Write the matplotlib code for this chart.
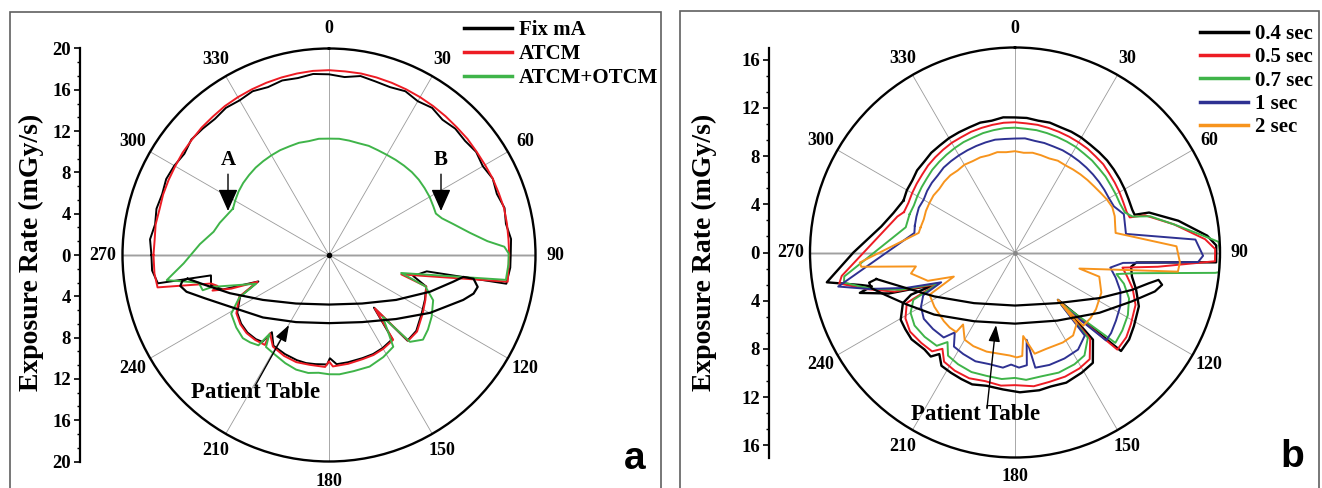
import numpy as np
import matplotlib
matplotlib.use('Agg')
import matplotlib.pyplot as plt
from matplotlib.lines import Line2D
from matplotlib.patches import Rectangle
from matplotlib.ticker import MultipleLocator

plt.rcParams['font.family'] = ['Liberation Serif', 'DejaVu Serif']
plt.rcParams['font.weight'] = 'bold'

W, H = 1322, 488

# angles in degrees, clockwise from the top; radius = exposure rate (mGy/s)
# ---------------- panel a ----------------
fix_a_theta = [270, 275, 280, 285, 290, 295, 300, 305, 310, 315, 320, 325, 330, 335, 340, 345, 350, 355,
               0, 5, 10, 15, 20, 25, 30, 35, 40, 45, 50, 55, 60, 65, 70, 75, 80, 85, 90,
               94, 99.2, 99.5, 104, 108, 115, 122, 131, 137.5, 139.5, 143, 150, 156, 162, 170, 176, 179.5, 181,
               187, 192, 197, 204, 211.5, 216.5, 217.5, 221, 226.5, 232, 237.8, 245, 249.5, 252, 255.5,
               260.2, 260.6, 265, 270]
fix_a_r = [17.2, 17.4, 17.1, 17.3, 17.2, 17.4, 17.3, 17.1, 17.4, 17.3, 17.2, 17.4, 17.3, 17.5, 17.3, 17.5, 17.4, 17.6,
           17.5, 17.3, 17.6, 17.4, 17.3, 17.5, 17.2, 17.4, 17.1, 17.3, 17.2, 17.4, 17.2, 17.5, 17.3, 17.6, 17.4, 17.7, 17.6,
           17.6, 17.4, 9.6, 8.4, 9.9, 10.25, 10.6, 11.2, 11.25, 6.7, 10.2, 10.4, 10.5, 10.5, 10.55, 10.6, 10.0, 10.6,
           10.65, 10.7, 10.65, 10.5, 10.3, 9.3, 10.6, 10.8, 10.9, 10.8, 10.5, 9.5, 7.3, 10.8, 11.8,
           11.6, 16.8, 17.2, 17.2]

atcm_a_theta = [270, 275, 280, 285, 290, 295, 300, 305, 310, 315, 320, 325, 330, 335, 340, 345, 350, 355,
                0, 5, 10, 15, 20, 25, 30, 35, 40, 45, 50, 55, 60, 65, 70, 75, 80, 85, 90,
                98.5, 105, 108, 115, 122, 131, 137.3, 139.4, 142.9, 150, 156, 162, 170, 178, 180, 182, 190, 197,
                204, 211.5, 217, 215.5, 221, 226.5, 232, 237.8, 245, 249.5, 251, 253, 254.5, 256.4, 259.3, 264, 270]
atcm_a_r = [17.0, 16.95, 17.05, 17.0, 17.1, 17.15, 17.2, 17.3, 17.35, 17.45, 17.5, 17.6, 17.65, 17.7, 17.75, 17.8, 17.85, 17.9,
            17.9, 17.85, 17.85, 17.8, 17.75, 17.7, 17.65, 17.6, 17.55, 17.5, 17.5, 17.45, 17.45, 17.5, 17.5, 17.55, 17.5, 17.45, 17.45,
            17.5, 7.25, 9.9, 10.3, 10.7, 11.3, 11.3, 6.8, 10.3, 10.5, 10.6, 10.6, 10.7, 10.8, 10.3, 10.85, 10.8, 10.85,
            10.7, 10.4, 9.5, 10.7, 10.9, 11.0, 10.9, 10.6, 9.6, 7.4, 10.0, 11.8, 11.2, 11.75, 16.9, 17.0, 17.0]

otcm_a_theta = [295.8, 300, 305, 310, 315, 320, 325, 330, 335, 340, 345, 350, 355, 0, 5, 10, 15, 20, 25, 30,
                35, 40, 45, 50, 55, 60, 65, 68.8, 72, 76, 81, 85, 87.3, 89.5, 93, 98, 104, 108, 113.5, 121,
                127, 132, 137, 139, 145, 152, 160, 168, 175, 180, 185, 190, 196, 202, 208, 214.4, 217, 218, 222, 226,
                232, 239, 244.7, 248.5, 254.7, 254.4, 258, 261.2, 266.7, 274.8, 281.4, 286.4, 295.8]
otcm_a_r = [10.33, 10.5, 10.7, 10.85, 10.95, 11.05, 11.1, 11.15, 11.2, 11.2, 11.25, 11.2, 11.3, 11.27, 11.3, 11.25, 11.2, 11.25, 11.2, 11.2,
            11.25, 11.3, 11.35, 11.35, 11.3, 11.25, 11.15, 11.1, 11.5, 12.4, 13.8, 15.4, 17.0, 17.4, 17.4, 17.3, 7.2, 9.8, 11.0, 11.6,
            12.0, 12.25, 11.5, 7.95, 10.85, 11.2, 11.5, 11.5, 11.6, 11.55, 11.45, 11.6, 11.55, 11.3, 11.0, 10.8, 9.6, 11.1, 11.4, 11.6,
            11.4, 11.05, 9.6, 7.6, 11.7, 12.7, 12.9, 15.9, 14.1, 12.55, 11.4, 11.03, 10.33]

# patient table loop, read as x/y offsets from the centre (mGy/s units)
table_a_x = [-13.7, -12.0, -9.6, -6.4, -3.2, 0.0, 3.2, 6.5, 9.8, 12.0, 13.0, 14.0, 14.4, 14.0, 13.0, 9.8, 6.5, 3.2,
             0.0, -3.2, -6.4, -9.6, -12.0, -13.8, -14.4, -14.2, -13.7]
table_a_y = [-2.3, -2.9, -3.7, -4.35, -4.7, -4.8, -4.7, -4.35, -3.55, -2.6, -2.12, -2.3, -3.09, -3.74, -4.35, -5.6, -6.2, -6.5,
             -6.6, -6.5, -6.05, -5.0, -4.2, -3.56, -3.0, -2.5, -2.3]

# ---------------- panel b ----------------
s04_theta = [295, 300, 305, 310, 315, 320, 325, 330, 335, 340, 345, 350, 355,
             0, 5, 10, 15, 20, 25, 30, 35, 40, 45, 50, 55, 60, 65, 70,
             72.5, 73.4, 79, 85, 88, 92.8, 94.7, 97, 101.6, 107, 113.5, 121.8, 127.3, 132.9, 137.8, 138.2, 144.8, 151, 158.5, 165,
             170, 178, 185, 192, 198, 203, 208, 213, 216.7, 219, 223, 230, 235, 239.5, 245.7, 247.9, 248.2, 252, 255.4, 256.7,
             258, 261, 270, 281, 288, 295]
s04_r = [10.2, 10.35, 10.4, 10.6, 10.65, 10.8, 10.85, 10.95, 11.0, 11.05, 11.15, 11.1, 11.25,
         11.2, 11.2, 11.1, 11.15, 11.05, 11.05, 11.0, 10.9, 10.85, 10.8, 10.7, 10.6, 10.5, 10.4, 10.35,
         10.4, 11.6, 13.8, 16.0, 16.7, 16.7, 10.1, 9.7, 9.9, 10.5, 11.2, 11.6, 11.9, 12.0, 5.3, 9.7, 11.2, 11.4, 11.6, 11.5,
         11.6, 11.6, 11.4, 11.3, 11.5, 11.4, 11.3, 11.2, 10.5, 11.1, 11.0, 11.2, 11.1, 11.0, 10.2, 9.3, 7.2, 11.0, 13.3, 12.2,
         13.0, 15.8, 13.4, 11.3, 10.6, 10.2]

s05_theta = [290, 295, 300, 305, 310, 315, 320, 325, 330, 335, 340, 345, 350, 355,
             0, 5, 10, 15, 20, 25, 30, 35, 40, 45, 50, 55, 60, 65, 70,
             73, 74, 80, 86, 89, 92.5, 95.7, 98, 102, 107, 113.5, 121.8, 127.3, 133.5, 138, 139, 145, 151, 158, 165,
             172, 180, 186, 193, 200, 207, 213, 217, 220, 226, 233, 239, 245, 248, 252, 256, 260, 262.3, 287, 290]
s05_r = [9.8, 9.75, 9.85, 9.95, 10.05, 10.2, 10.3, 10.4, 10.5, 10.55, 10.65, 10.7, 10.75, 10.8,
         10.8, 10.75, 10.75, 10.7, 10.65, 10.6, 10.55, 10.5, 10.4, 10.35, 10.2, 10.1, 10.0, 9.9, 9.85,
         9.95, 11.2, 13.4, 15.8, 16.6, 16.6, 11.9, 9.0, 9.5, 10.2, 10.9, 11.3, 11.6, 11.7, 5.4, 9.5, 10.8, 11.0, 11.1, 11.1,
         11.2, 11.0, 11.1, 10.95, 11.1, 11.0, 10.8, 10.0, 10.7, 10.8, 10.9, 10.6, 9.9, 7.0, 10.5, 12.6, 14.8, 14.5, 10.2, 9.8]

s07_theta = [290, 295, 300, 305, 310, 315, 320, 325, 330, 335, 340, 345, 350, 355,
             0, 5, 10, 15, 20, 25, 30, 35, 40, 45, 50, 55, 60, 65, 70,
             73, 75, 80, 84, 87, 90, 95.5, 95.8, 99.8, 102, 106, 112, 119, 126, 132, 138.3, 139.5, 146, 152, 160,
             168, 175, 180, 186, 193, 200, 207, 213, 217, 220, 227, 234, 240, 245, 248, 252, 256, 260, 262, 283, 290]
s07_r = [9.3, 9.25, 9.35, 9.45, 9.55, 9.7, 9.8, 9.9, 10.0, 10.1, 10.15, 10.25, 10.3, 10.35,
         10.35, 10.3, 10.3, 10.25, 10.2, 10.15, 10.1, 10.0, 9.95, 9.85, 9.8, 9.7, 9.65, 9.6, 9.7,
         10.2, 11.6, 13.4, 15.2, 16.9, 17.0, 17.0, 16.7, 10.1, 8.6, 9.4, 10.2, 10.7, 11.0, 11.2, 5.5, 9.3, 10.3, 10.5, 10.6,
         10.5, 10.6, 10.4, 10.55, 10.5, 10.55, 10.4, 10.2, 9.3, 10.1, 10.25, 10.3, 10.0, 9.3, 6.8, 10.0, 12.4, 14.4, 14.3, 9.3, 9.3]

s1_theta = [285, 290, 295, 300, 305, 310, 315, 320, 325, 330, 335, 340, 345, 350, 355,
            0, 5, 10, 15, 20, 25, 30, 35, 40, 45, 50, 55, 60, 65,
            70.6, 80.5, 85.9, 91, 93, 95.5, 99, 104, 110, 117, 124, 130, 134, 138.5, 140, 147, 155, 163, 170, 172.4,
            174, 178, 182, 186, 193, 200, 207, 213, 217, 220, 227, 234, 240, 245, 248, 252, 256, 259.1, 281, 285]
s1_r = [8.6, 8.7, 8.8, 8.75, 8.9, 9.0, 9.05, 9.2, 9.25, 9.3, 9.35, 9.4, 9.45, 9.5, 9.45,
        9.45, 9.5, 9.4, 9.4, 9.35, 9.35, 9.3, 9.25, 9.2, 9.15, 9.1, 9.05, 9.0, 9.05,
        9.57, 9.33, 15.0, 15.6, 15.2, 9.0, 8.0, 8.6, 9.3, 9.8, 10.1, 10.4, 10.5, 5.8, 9.0, 9.6, 9.7, 9.75, 9.7, 7.3,
        9.4, 9.55, 9.3, 9.6, 9.5, 9.6, 9.45, 9.3, 8.3, 9.2, 9.3, 9.35, 9.0, 8.4, 6.6, 9.5, 12.5, 14.93, 8.5, 8.6]

s2_theta = [285, 290, 295, 300, 305, 310, 315, 320, 325, 330, 335, 340, 345, 350, 355,
            0, 5, 10, 15, 20, 25, 30, 35, 40, 45, 50, 55, 60, 65, 70, 75,
            79, 87.8, 93.4, 96.7, 104, 106, 115, 125, 131, 137, 137.8, 139, 145, 152, 162, 169, 174.4, 176, 179,
            183, 188, 196, 204, 210, 215.8, 216.5, 221, 226, 236, 243.7, 248.5, 252, 258.6, 262, 264.7, 266.3, 281.5, 285]
s2_r = [8.1, 8.05, 8.15, 8.2, 8.25, 8.2, 8.3, 8.35, 8.3, 8.4, 8.35, 8.4, 8.35, 8.45, 8.35,
        8.4, 8.3, 8.4, 8.35, 8.3, 8.4, 8.35, 8.4, 8.45, 8.5, 8.55, 8.65, 8.8, 8.9, 8.8, 8.6,
        8.5, 13.4, 13.7, 13.6, 5.5, 7.27, 7.9, 8.2, 8.3, 8.3, 5.3, 7.8, 8.4, 8.45, 8.4, 8.55, 6.96, 8.6, 8.7,
        8.55, 8.5, 8.55, 8.5, 8.35, 7.36, 8.2, 8.25, 8.2, 8.06, 7.9, 5.45, 7.6, 8.8, 8.3, 12.8, 12.9, 8.15, 8.1]

table_b_x = [-11.5, -9.45, -6.7, -3.4, 0.0, 3.5, 7.0, 9.7, 11.1, 11.9, 12.2, 11.6, 9.7, 7.0, 3.5, 0.0,
             -3.4, -6.7, -9.0, -10.8, -11.9, -12.1, -11.5]
table_b_y = [-2.2, -2.82, -3.64, -4.2, -4.4, -4.2, -3.78, -3.1, -2.55, -2.27, -2.68, -3.23, -4.05, -5.0, -5.65, -5.9,
             -5.7, -5.15, -4.3, -3.5, -2.96, -2.5, -2.2]

BLACK, RED, GREEN, BLUE, ORANGE = '#000000', '#ed1c24', '#3fb449', '#2e3192', '#f7941d'
LW = 1.4


def fpos(x, y):
    # pixel position (from top-left) -> figure fraction
    return x / W, 1 - y / H


def make_panel(fig, cx, cy, rad, rmax, axis_x):
    ax = fig.add_axes([(cx - rad) / W, 1 - (cy + rad) / H, 2 * rad / W, 2 * rad / H], projection='polar')
    ax.set_theta_zero_location('N')
    ax.set_theta_direction(-1)
    ax.set_rlim(0, rmax)
    ax.set_yticks([])
    ax.set_thetagrids(np.arange(0, 360, 30), [''] * 12)
    ax.set_xticks(np.deg2rad(np.arange(15, 360, 30)), minor=True)
    ax.tick_params(axis='x', which='major', direction='in', length=6, width=1.2, colors='k')
    ax.tick_params(axis='x', which='minor', direction='inout', length=5, width=1.0, colors='k')
    ax.xaxis.grid(True, color='#9a9a9a', lw=0.6)
    ax.spines['polar'].set_linewidth(1.7)
    ax.axvline(np.deg2rad(90), color='#c4c4c4', lw=1.8, zorder=1)
    ax.axvline(np.deg2rad(270), color='#c4c4c4', lw=1.8, zorder=1)
    for a in range(0, 360, 30):
        ax.text(np.deg2rad(a), rmax * 1.095, str(a), ha='center', va='center', fontsize=13, clip_on=False)

    # linear rate axis on the left, Origin style
    axl = fig.add_axes([axis_x / W, 1 - (cy + rad) / H, 0.0005, 2 * rad / H])
    axl.set_ylim(-rmax, rmax)
    for s in ['top', 'right', 'bottom']:
        axl.spines[s].set_visible(False)
    axl.spines['left'].set_linewidth(1.6)
    axl.set_xticks([])
    top = int(rmax) // 4 * 4
    ticks = list(range(-top, top + 1, 4))
    axl.set_yticks(ticks)
    axl.set_yticklabels([str(abs(t)) for t in ticks])
    axl.yaxis.set_minor_locator(MultipleLocator(4 / 3))
    axl.tick_params(axis='y', which='major', length=4.5, width=1.2, labelsize=13.5, pad=2)
    axl.tick_params(axis='y', which='minor', length=2.5, width=1.0)
    axl.patch.set_visible(False)
    return ax


fig = plt.figure(figsize=(W / 100, H / 100), dpi=100)

# panel frames
fig.patches.append(Rectangle(fpos(10, 492), 651 / W, 480 / H, transform=fig.transFigure,
                             fill=False, ec='#606060', lw=1.2))
fig.patches.append(Rectangle(fpos(680, 492), 639 / W, 481 / H, transform=fig.transFigure,
                             fill=False, ec='#606060', lw=1.2))

# ---- panel a
axa = make_panel(fig, 329, 255, 206.5, 20, 80)
axa.plot(np.deg2rad(fix_a_theta), fix_a_r, color=BLACK, lw=LW, label='Fix mA')
axa.plot(np.deg2rad(atcm_a_theta), atcm_a_r, color=RED, lw=LW, label='ATCM')
axa.plot(np.deg2rad(otcm_a_theta), otcm_a_r, color=GREEN, lw=LW, label='ATCM+OTCM')
tx, ty = np.array(table_a_x), np.array(table_a_y)
axa.plot(np.arctan2(tx, ty), np.hypot(tx, ty), color=BLACK, lw=1.6)
axa.plot(0, 0, 'o', color='k', ms=3)

fig.text(*fpos(31, 252), 'Exposure Rate (mGy/s)', rotation=90, fontsize=20, ha='center', va='center')
axa.legend(handles=[Line2D([], [], color=c, lw=2.5) for c in (BLACK, RED, GREEN)],
           labels=['Fix mA', 'ATCM', 'ATCM+OTCM'], loc='upper left',
           bbox_to_anchor=fpos(464, 20), bbox_transform=fig.transFigure, frameon=False,
           fontsize=15, handlelength=2.3, handletextpad=0.35, labelspacing=0.2,
           borderpad=0, borderaxespad=0)

arrow = dict(arrowstyle='-|>,head_length=0.9,head_width=0.4', color='k', lw=1.0, shrinkA=1, shrinkB=0)
axa.annotate('A', xy=fpos(228, 211), xycoords='figure fraction', xytext=fpos(228, 160),
             textcoords='figure fraction', ha='center', va='center', fontsize=15,
             arrowprops=arrow, annotation_clip=False)
axa.annotate('B', xy=fpos(441, 211), xycoords='figure fraction', xytext=fpos(441, 160),
             textcoords='figure fraction', ha='center', va='center', fontsize=15,
             arrowprops=arrow, annotation_clip=False)
axa.annotate('', xy=fpos(289, 325), xycoords='figure fraction', xytext=fpos(255, 386),
             textcoords='figure fraction',
             arrowprops=dict(arrowstyle='-|>,head_length=1.0,head_width=0.35', color='k', lw=1.0,
                             shrinkA=0, shrinkB=0), annotation_clip=False)
fig.text(*fpos(256, 392), 'Patient Table', fontsize=16.5, ha='center', va='center')
fig.text(*fpos(635, 459), 'a', fontsize=28, family='Liberation Sans', weight='bold', ha='center', va='center')

# ---- panel b
axb = make_panel(fig, 1015, 252.5, 205, 17, 769)
axb.plot(np.deg2rad(s04_theta), s04_r, color=BLACK, lw=1.7, label='0.4 sec')
axb.plot(np.deg2rad(s05_theta), s05_r, color=RED, lw=LW, label='0.5 sec')
axb.plot(np.deg2rad(s07_theta), s07_r, color=GREEN, lw=LW, label='0.7 sec')
axb.plot(np.deg2rad(s1_theta), s1_r, color=BLUE, lw=LW, label='1 sec')
axb.plot(np.deg2rad(s2_theta), s2_r, color=ORANGE, lw=LW, label='2 sec')
tx, ty = np.array(table_b_x), np.array(table_b_y)
axb.plot(np.arctan2(tx, ty), np.hypot(tx, ty), color=BLACK, lw=1.6)
axb.plot(0, 0, 'o', color='#888888', ms=2.5)

fig.text(*fpos(704, 252), 'Exposure Rate (mGy/s)', rotation=90, fontsize=20, ha='center', va='center')
axb.legend(handles=[Line2D([], [], color=c, lw=2.5) for c in (BLACK, RED, GREEN, BLUE, ORANGE)],
           labels=['0.4 sec', '0.5 sec', '0.7 sec', '1 sec', '2 sec'], loc='upper left',
           bbox_to_anchor=fpos(1200, 24), bbox_transform=fig.transFigure, frameon=False,
           fontsize=15, handlelength=2.3, handletextpad=0.35, labelspacing=0.16,
           borderpad=0, borderaxespad=0)
axb.annotate('', xy=fpos(996, 325), xycoords='figure fraction', xytext=fpos(987, 408),
             textcoords='figure fraction',
             arrowprops=dict(arrowstyle='-|>,head_length=1.0,head_width=0.35', color='k', lw=1.0,
                             shrinkA=0, shrinkB=0), annotation_clip=False)
fig.text(*fpos(976, 415), 'Patient Table', fontsize=16.5, ha='center', va='center')
fig.text(*fpos(1292, 457), 'b', fontsize=28, family='Liberation Sans', weight='bold', ha='center', va='center')

fig.savefig('out.png', dpi=100)
